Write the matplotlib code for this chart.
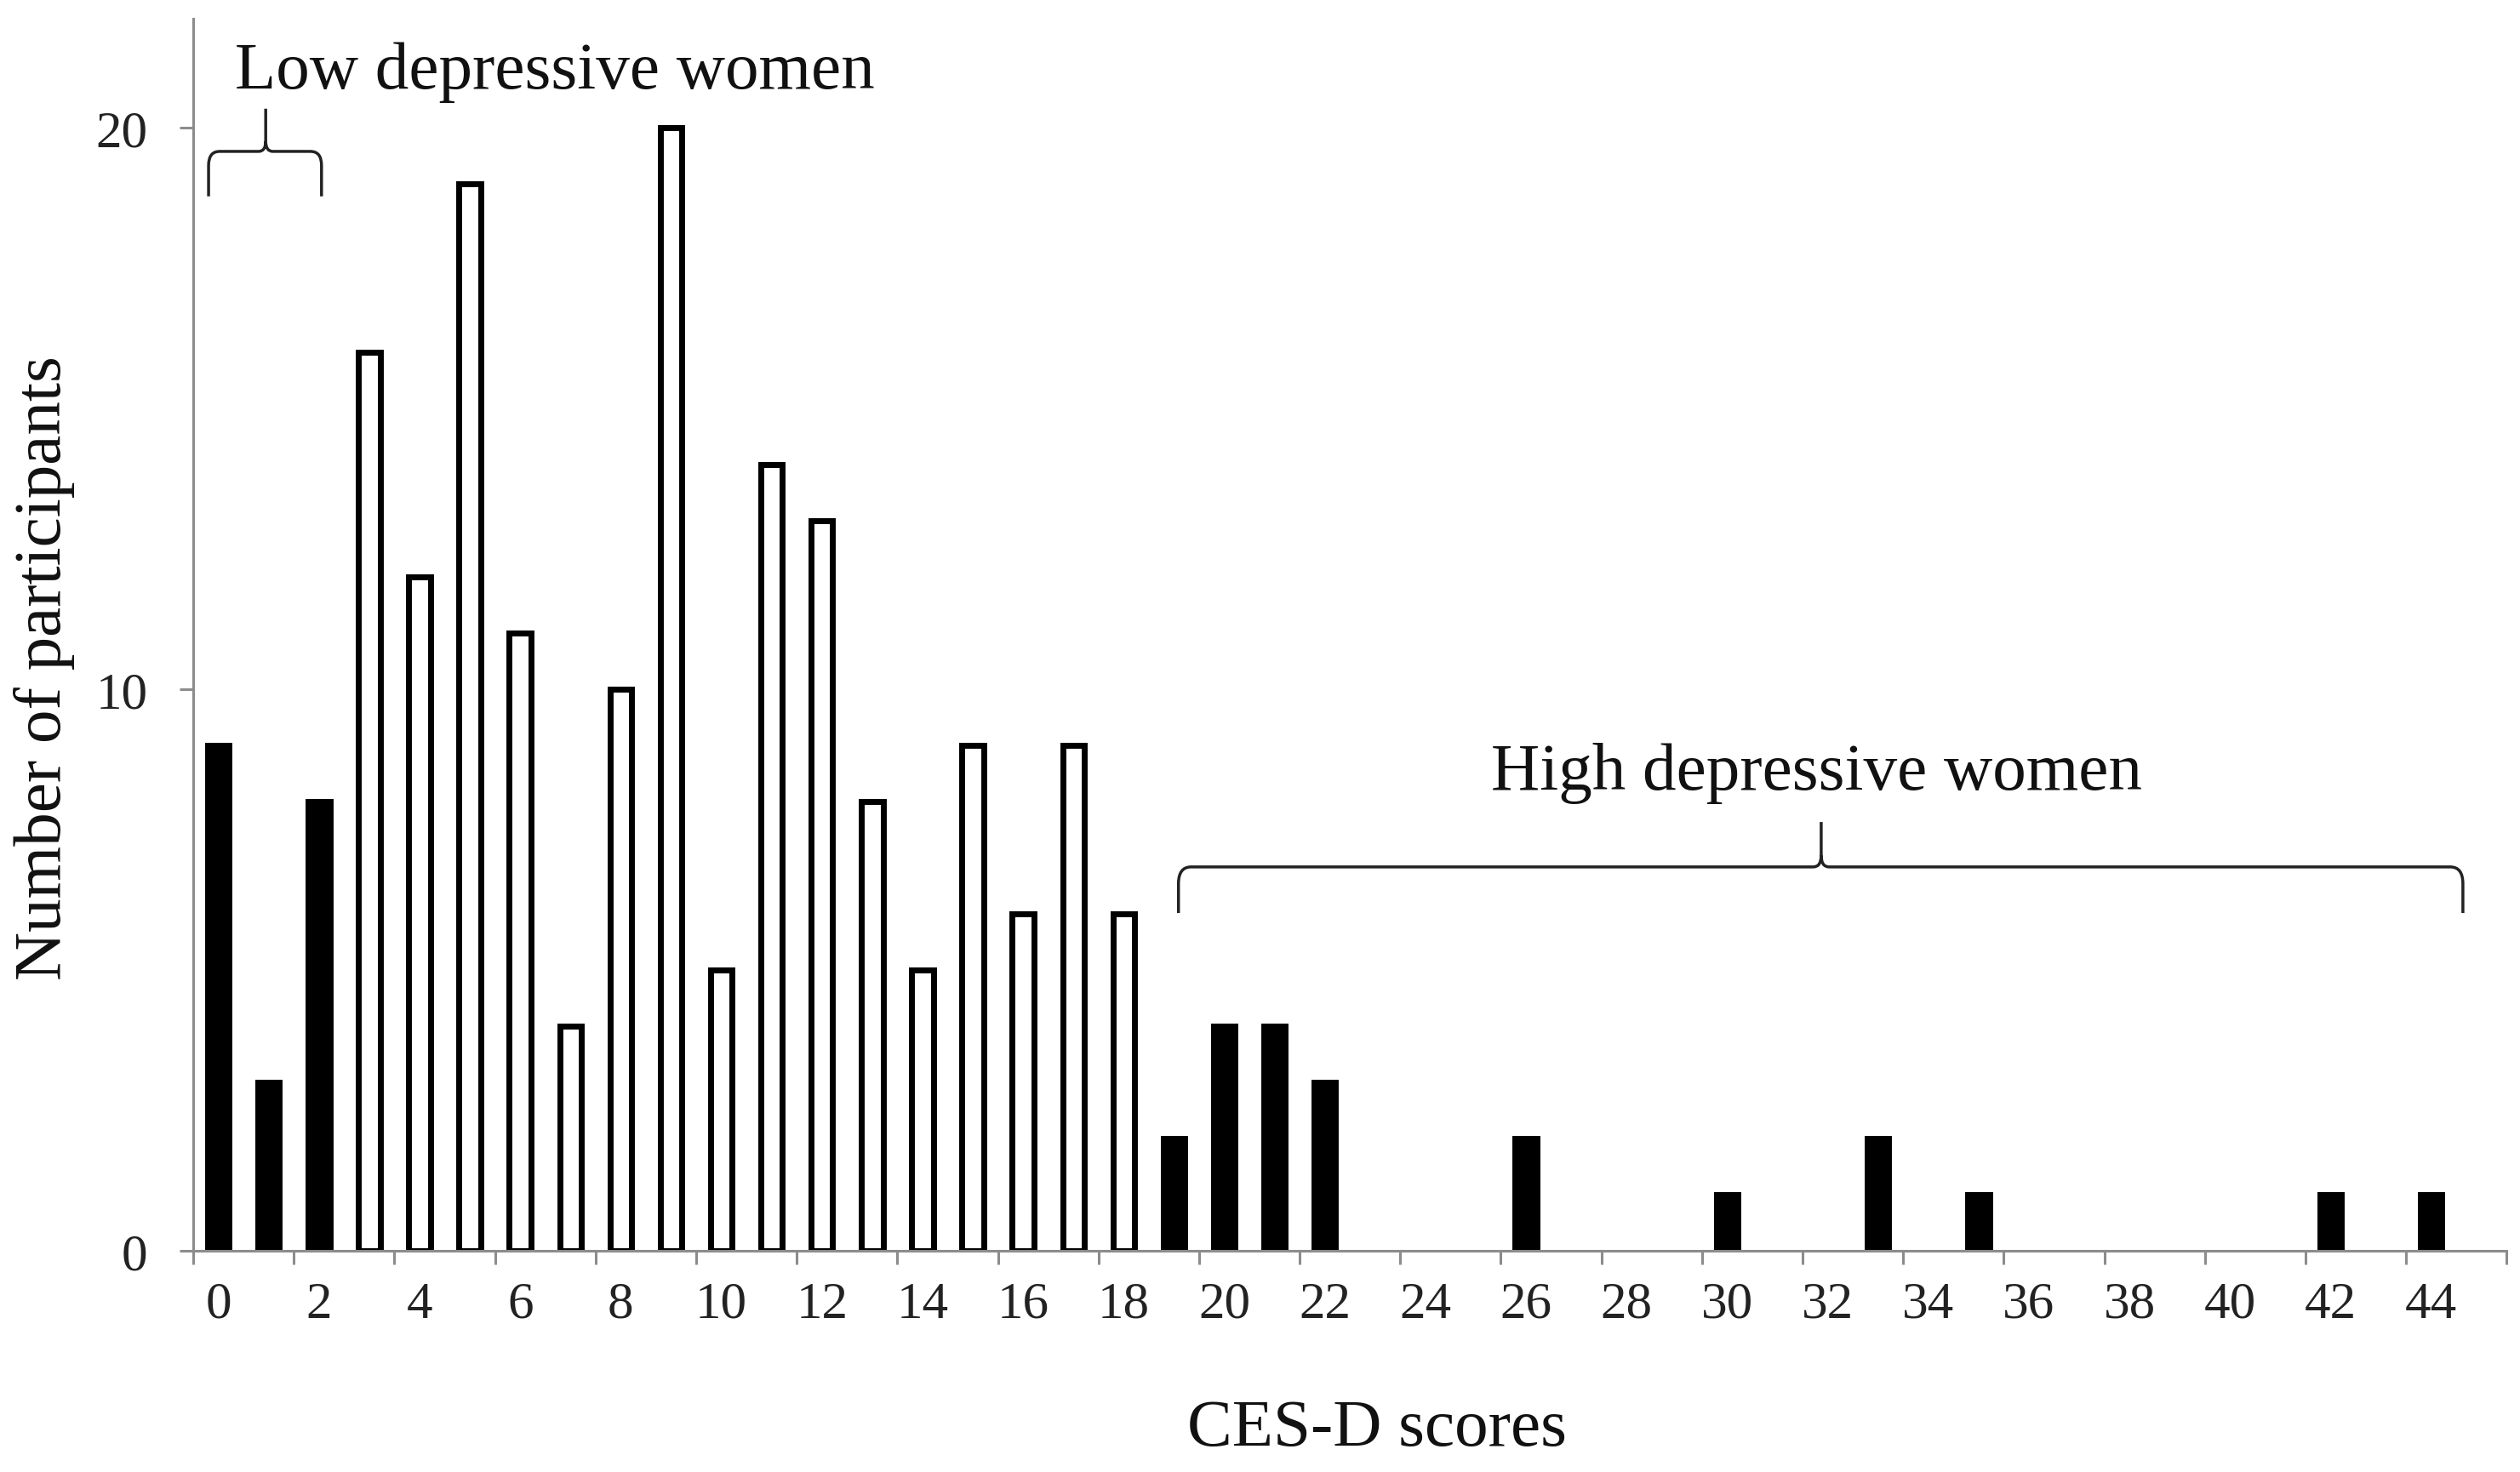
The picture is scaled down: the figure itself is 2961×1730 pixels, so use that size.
import matplotlib
matplotlib.use("Agg")
import matplotlib.pyplot as plt
from matplotlib.path import Path
from matplotlib.patches import PathPatch

# ---- data ----
scores = list(range(46))
counts = [9, 3, 8, 16, 12, 19, 11, 4, 10, 20,
          5, 14, 13, 8, 5, 9, 6, 9, 6, 2,
          4, 4, 3, 0, 0, 0, 2, 0, 0, 0,
          1, 0, 0, 2, 0, 1, 0, 0, 0, 0,
          0, 0, 1, 0, 1, 0]
low_cut = 2     # scores <= low_cut : low depressive
high_cut = 19   # scores >= high_cut : high depressive
xtick_values = list(range(0, 45, 2))
xtick_labels = [str(v) for v in xtick_values]
yticks = [0, 10, 20]
xlabel = "CES-D scores"
ylabel = "Number of participants"
low_text = "Low depressive women"
high_text = "High depressive women"

plt.rcParams['font.family'] = ['Liberation Serif', 'DejaVu Serif']

fig = plt.figure(figsize=(29.61, 17.31), dpi=100)
ax = fig.add_axes([0.0767, 0.150, 0.918, 0.837])

facecolors = ['black' if (s <= low_cut or s >= high_cut) else 'white' for s in scores]
linewidths = [5.0 if c > 0 else 0.0 for c in counts]
ax.bar(scores, counts, width=0.43, color=facecolors, edgecolor='black',
       linewidth=linewidths, zorder=3)

ax.set_xlim(-0.5, 45.5)
ax.set_ylim(0, 21.95)

for s in ['top', 'right']:
    ax.spines[s].set_visible(False)
for s in ['left', 'bottom']:
    ax.spines[s].set_color('#8c8c8c')
    ax.spines[s].set_linewidth(2.2)
    ax.spines[s].set_zorder(4)

ax.set_yticks(yticks)
ax.set_yticklabels([str(v) for v in yticks])
ax.set_xticks(xtick_values)
ax.set_xticklabels(xtick_labels)
ax.tick_params(axis='x', length=0, pad=25, labelsize=44, colors='#222222')
ax.set_xticks([v - 0.5 for v in range(0, 47, 2)], minor=True)
ax.tick_params(axis='x', which='minor', length=11.5, width=2.2, color='#8c8c8c', direction='out')
ax.tick_params(axis='y', length=11.5, width=2.2, color='#8c8c8c', pad=27, labelsize=44,
               labelcolor='#222222')

ax.set_xlabel(xlabel, fontsize=57, labelpad=60, color='#111111')
ax.xaxis.label.set_x(0.5116)
ax.set_ylabel(ylabel, fontsize=57, labelpad=18, color='#111111')
ax.yaxis.label.set_y(0.4737)


def brace(ax, x0, x1, xm, yh, yend, ytip, rx, ry, cx, cy):
    verts = [
        (x0, yend),
        (x0, yh - ry), (x0, yh), (x0 + rx, yh),
        (xm - cx, yh),
        (xm, yh), (xm, yh + cy),
        (xm, ytip),
        (xm, yh + cy), (xm, yh), (xm + cx, yh),
        (x1 - rx, yh),
        (x1, yh), (x1, yh - ry),
        (x1, yend),
    ]
    codes = [Path.MOVETO,
             Path.LINETO, Path.CURVE3, Path.CURVE3,
             Path.LINETO,
             Path.CURVE3, Path.CURVE3,
             Path.LINETO,
             Path.MOVETO, Path.CURVE3, Path.CURVE3,
             Path.LINETO,
             Path.CURVE3, Path.CURVE3,
             Path.LINETO]
    p = Path(verts, codes)
    ax.add_patch(PathPatch(p, fill=False, lw=2.5, edgecolor='#222222',
                           clip_on=False, zorder=5, capstyle='butt', joinstyle='round'))


brace(ax, -0.196, 2.05, 0.94, 19.58, 18.78, 20.34, 0.22, 0.25, 0.14, 0.18)
brace(ax, 19.09, 44.63, 31.87, 6.84, 6.02, 7.64, 0.25, 0.3, 0.16, 0.2)

ax.text(6.69, 20.71, low_text, fontsize=57, ha='center', va='baseline', color='#111111')
ax.text(31.78, 8.23, high_text, fontsize=57, ha='center', va='baseline', color='#111111')

fig.savefig("out.png", dpi=100, facecolor='white')
